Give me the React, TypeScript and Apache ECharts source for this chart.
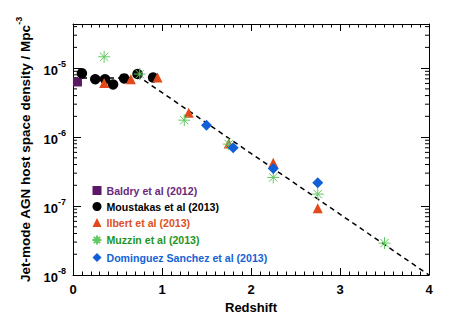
import React, { useEffect, useRef } from 'react';
import * as echarts from 'echarts';

// ---- data (redshift, space density in Mpc^-3) ----
const baldryZ = [0.05];
const baldryN = [6.3e-6];
const moustakasZ = [0.1, 0.25, 0.36, 0.45, 0.575, 0.725, 0.9];
const moustakasN = [8.4e-6, 6.9e-6, 6.9e-6, 5.8e-6, 7.1e-6, 8.2e-6, 7.3e-6];
const ilbertZ = [0.35, 0.65, 0.95, 1.3, 1.75, 2.25, 2.75];
const ilbertN = [6.1e-6, 6.9e-6, 7.3e-6, 2.25e-6, 8.1e-7, 4.25e-7, 9.3e-8];
const muzzinZ = [0.35, 0.75, 1.25, 1.75, 2.25, 2.75, 3.5];
const muzzinN = [1.46e-5, 8.2e-6, 1.76e-6, 7.9e-7, 2.6e-7, 1.49e-7, 2.9e-8];
const dominguezZ = [1.5, 1.8, 2.25, 2.75];
const dominguezN = [1.49e-6, 7.0e-7, 3.5e-7, 2.18e-7];
const modelZ = [0, 0.76, 4];
const modelN = [7.2e-6, 7.2e-6, 1e-8];

const seriesNames = [
  'Baldry et al (2012)',
  'Moustakas et al (2013)',
  'Ilbert et al (2013)',
  'Muzzin et al (2013)',
  'Dominguez Sanchez et al (2013)',
];
const textColors = ['#6A2A7C', '#000000', '#E0501E', '#1E961E', '#1463D6'];

const X_MIN = 0;
const X_MAX = 4;
const Y_MIN = -8; // log10
const Y_MAX = -4.36; // log10
const decades = [-8, -7, -6, -5];

const FONT = '"Liberation Sans", Arial, Helvetica, sans-serif';

const toPts = (zs: number[], ns: number[]) => zs.map((z, i) => [z, Math.log10(ns[i])]);

export default function App() {
  const ref = useRef<HTMLDivElement>(null);
  useEffect(() => {
    if (!ref.current) return;
    const chart = echarts.init(ref.current, null, { renderer: 'svg' });

    const minor: number[][] = [];
    decades.forEach((d) => {
      for (let k = 2; k <= 9; k++) {
        const v = d + Math.log10(k);
        if (v < Y_MAX) minor.push([0, v]);
      }
    });

    const asterisk = 'path://M0,5L10,5M5,0L5,10M1.5,1.5L8.5,8.5M1.5,8.5L8.5,1.5';

    const yLabel = (v: number) => (Number.isInteger(v) ? `{a|10}{b|${v}}` : '');
    const yRich = {
      a: { fontSize: 13, fontWeight: 'bold', fontFamily: FONT, color: '#000', lineHeight: 18, verticalAlign: 'bottom' },
      b: { fontSize: 9, fontWeight: 'bold', fontFamily: FONT, color: '#000', lineHeight: 10, verticalAlign: 'top' },
    };

    const option: any = {
      animation: false,
      backgroundColor: '#fff',
      grid: { left: 73, right: 23, top: 24, bottom: 48 },
      legend: {
        orient: 'vertical',
        left: 85,
        top: 180,
        itemWidth: 9,
        itemHeight: 9,
        itemGap: 5,
        textStyle: { fontFamily: FONT, fontSize: 10.6, fontWeight: 'bold' },
        data: seriesNames.map((n, i) => ({ name: n, textStyle: { color: textColors[i] } })),
      },
      xAxis: [
        {
          type: 'value', min: X_MIN, max: X_MAX, interval: 1, position: 'bottom',
          name: 'Redshift', nameLocation: 'middle', nameGap: 24,
          nameTextStyle: { fontFamily: FONT, fontSize: 13, fontWeight: 'bold', color: '#000' },
          axisLine: { lineStyle: { color: '#000', width: 1 } },
          axisTick: { inside: true, length: 7, lineStyle: { color: '#000' } },
          minorTick: { show: true, splitNumber: 10, length: 3.5, lineStyle: { color: '#000' } },
          axisLabel: { fontFamily: FONT, fontSize: 13, fontWeight: 'bold', color: '#000', margin: 8 },
          splitLine: { show: false },
        },
        {
          type: 'value', min: X_MIN, max: X_MAX, interval: 1, position: 'top',
          axisLine: { lineStyle: { color: '#000', width: 1 } },
          axisTick: { inside: true, length: 7, lineStyle: { color: '#000' } },
          minorTick: { show: true, splitNumber: 10, length: 3.5, lineStyle: { color: '#000' } },
          axisLabel: { show: false },
          splitLine: { show: false },
        },
      ],
      yAxis: [
        {
          type: 'value', min: Y_MIN, max: Y_MAX, interval: 1, position: 'left',
          name: '{n|Jet-mode AGN host space density / Mpc}{s|-3}',
          nameLocation: 'middle', nameGap: 30, nameRotate: 90,
          nameTextStyle: {
            rich: {
              n: { fontFamily: FONT, fontSize: 13.5, fontWeight: 'bold', color: '#000', lineHeight: 18, verticalAlign: 'bottom' },
              s: { fontFamily: FONT, fontSize: 9, fontWeight: 'bold', color: '#000', lineHeight: 10, verticalAlign: 'top' },
            },
          },
          axisLine: { onZero: false, lineStyle: { color: '#000', width: 1 } },
          axisTick: { inside: true, length: 8, lineStyle: { color: '#000' } },
          axisLabel: { formatter: yLabel, rich: yRich, margin: 7 },
          splitLine: { show: false },
        },
        {
          type: 'value', min: Y_MIN, max: Y_MAX, interval: 1, position: 'right',
          axisLine: { onZero: false, lineStyle: { color: '#000', width: 1 } },
          axisTick: { inside: true, length: 8, lineStyle: { color: '#000' } },
          axisLabel: { show: false },
          splitLine: { show: false },
        },
      ],
      series: [
        {
          type: 'custom', silent: true, z: 1,
          data: minor,
          renderItem: (_p: any, api: any) => {
            const v = api.value(1);
            const l = api.coord([X_MIN, v]);
            const r = api.coord([X_MAX, v]);
            return {
              type: 'group',
              children: [
                { type: 'line', shape: { x1: l[0], y1: l[1], x2: l[0] + 4, y2: l[1] }, style: { stroke: '#000', lineWidth: 1 } },
                { type: 'line', shape: { x1: r[0], y1: r[1], x2: r[0] - 4, y2: r[1] }, style: { stroke: '#000', lineWidth: 1 } },
              ],
            };
          },
        },
        {
          type: 'line', name: 'model', z: 2, symbol: 'none',
          data: toPts(modelZ, modelN),
          lineStyle: { color: '#000', width: 1.5, type: [5, 4] },
        },
        {
          type: 'scatter', name: seriesNames[0], z: 3, symbol: 'rect', symbolSize: 9,
          data: toPts(baldryZ, baldryN),
          itemStyle: { color: '#5C1766', opacity: 1 },
        },
        {
          type: 'scatter', name: seriesNames[1], z: 4, symbol: 'circle', symbolSize: 10.5,
          data: toPts(moustakasZ, moustakasN),
          itemStyle: { color: '#000', opacity: 1 },
        },
        {
          type: 'scatter', name: seriesNames[2], z: 5, symbol: 'triangle', symbolSize: 10,
          data: toPts(ilbertZ, ilbertN),
          itemStyle: { color: '#E2481A', opacity: 1 },
        },
        {
          type: 'scatter', name: seriesNames[3], z: 6, symbol: asterisk, symbolSize: 12,
          data: toPts(muzzinZ, muzzinN),
          itemStyle: { color: 'none', borderColor: '#62C862', borderWidth: 1, opacity: 1 },
        },
        {
          type: 'scatter', name: seriesNames[4], z: 7, symbol: 'diamond', symbolSize: 11,
          data: toPts(dominguezZ, dominguezN),
          itemStyle: { color: '#0F5FD8', opacity: 1 },
        },
      ],
    };
    chart.setOption(option);
    return () => chart.dispose();
  }, []);
  return <div ref={ref} style={{ width: 452, height: 323, position: 'absolute', left: 0, top: 0 }} />;
}
